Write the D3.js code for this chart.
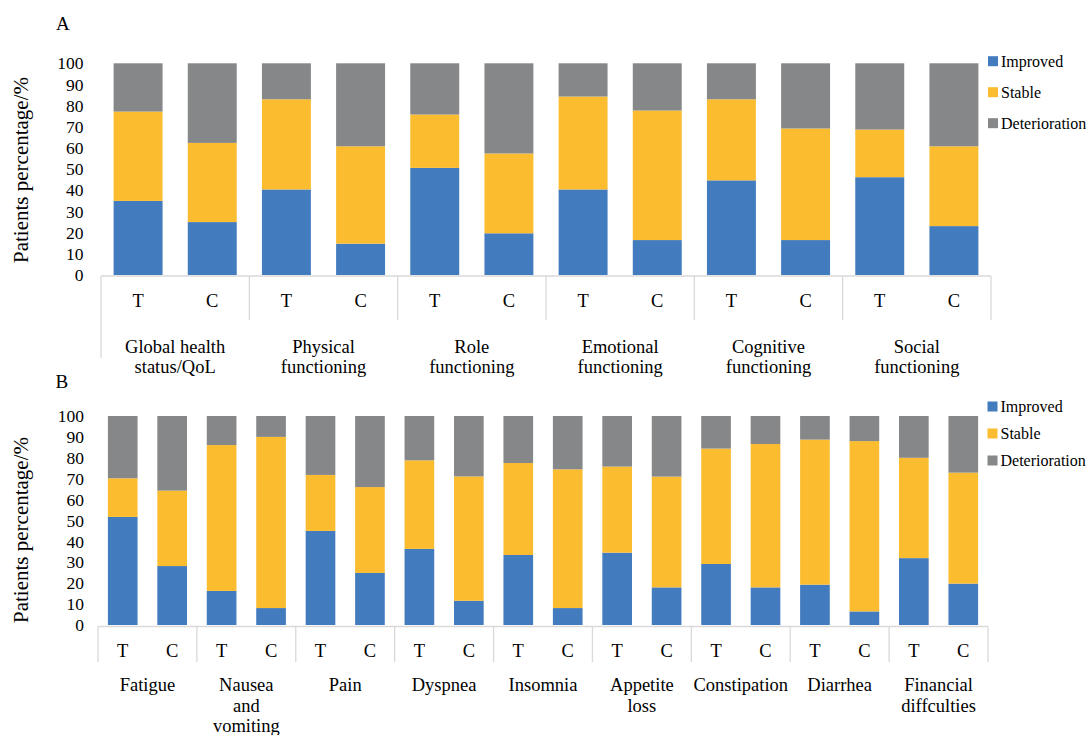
<!DOCTYPE html>
<html>
<head>
<meta charset="utf-8">
<script src="https://cdn.jsdelivr.net/npm/d3@7"></script>
<style>
  html, body { margin: 0; padding: 0; background: #ffffff; }
  svg { display: block; }
</style>
</head>
<body>
<svg id="chart" width="1089" height="735"></svg>
<script>
// ---- Data -------------------------------------------------------------
const groups = ["T", "C"];
const seriesNames = ["Improved", "Stable", "Deterioration"];
const seriesColors = ["#437bbf", "#fbbc30", "#868788"];
const yTicks = [0, 10, 20, 30, 40, 50, 60, 70, 80, 90, 100];
const yTitle = "Patients percentage/%";

// Panel A: functional scales (each pair is T then C)
const categoriesA = [
  ["Global health", "status/QoL"],
  ["Physical", "functioning"],
  ["Role", "functioning"],
  ["Emotional", "functioning"],
  ["Cognitive", "functioning"],
  ["Social", "functioning"]
];
const improvedA      = [35.0, 25.0, 40.4, 14.8, 50.6, 19.7, 40.4, 16.5, 44.7, 16.5, 46.2, 23.1];
const stableA        = [42.2, 37.4, 42.6, 46.0, 25.2, 37.7, 43.9, 61.2, 38.3, 52.7, 22.5, 37.7];
const deteriorationA = [22.8, 37.6, 17.0, 39.2, 24.2, 42.6, 15.7, 22.3, 17.0, 30.8, 31.3, 39.2];

// Panel B: symptom scales (each pair is T then C)
const categoriesB = [
  ["Fatigue"],
  ["Nausea", "and", "vomiting"],
  ["Pain"],
  ["Dyspnea"],
  ["Insomnia"],
  ["Appetite", "loss"],
  ["Constipation"],
  ["Diarrhea"],
  ["Financial", "diffculties"]
];
const improvedB      = [51.7, 28.2, 16.3, 8.1, 45.0, 24.9, 36.4, 11.6, 33.5, 8.1, 34.6, 18.0, 29.2, 18.0, 19.3, 6.5, 32.0, 19.8];
const stableB        = [18.5, 36.1, 69.8, 81.9, 26.8, 41.1, 42.4, 59.5, 44.0, 66.4, 41.2, 53.0, 55.2, 68.6, 69.4, 81.5, 48.0, 53.1];
const deteriorationB = [29.8, 35.7, 13.9, 10.0, 28.2, 34.0, 21.2, 28.9, 22.5, 25.5, 24.2, 29.0, 15.6, 13.4, 11.3, 12.0, 20.0, 27.1];

// ---- Drawing ----------------------------------------------------------
const FONT = "'Liberation Serif', 'Times New Roman', Times, serif";
const svg = d3.select("#chart");
const axisColor = "#d9d9d9";

function drawPanel(p) {
  const g = svg.append("g");

  // one row per bar: category index + group letter
  const rows = [];
  p.categories.forEach((cat, ci) => {
    groups.forEach((grp, gi) => {
      const i = ci * groups.length + gi;
      rows.push({
        key: ci + "-" + grp, cat: ci, grp: grp,
        Improved: p.improved[i], Stable: p.stable[i], Deterioration: p.deterioration[i]
      });
    });
  });

  const x = d3.scaleBand()
    .domain(rows.map(d => d.key))
    .range([p.left, p.right])
    .paddingInner(p.padInner)
    .paddingOuter(p.padInner / 2);

  const y = d3.scaleLinear().domain([0, 100]).range([p.bottom, p.top]);
  const color = d3.scaleOrdinal().domain(seriesNames).range(seriesColors);

  const stacked = d3.stack().keys(seriesNames)(rows);

  g.selectAll("g.series")
    .data(stacked)
    .join("g")
    .attr("class", "series")
    .attr("fill", s => color(s.key))
    .selectAll("rect")
    .data(s => s)
    .join("rect")
    .attr("x", d => x(d.data.key))
    .attr("width", x.bandwidth())
    .attr("y", d => y(d[1]))
    .attr("height", d => y(d[0]) - y(d[1]));

  // y axis: labels only
  const yAxis = g.append("g")
    .attr("transform", `translate(${p.tickX},0)`)
    .call(d3.axisLeft(y).tickValues(yTicks).tickSize(0).tickPadding(0));
  yAxis.select(".domain").remove();
  yAxis.selectAll("text")
    .attr("font-size", 17.5)
    .attr("fill", "#000");

  // y title
  g.append("text")
    .attr("transform", `translate(${p.titleX},${p.titleY}) rotate(-90)`)
    .attr("text-anchor", "middle")
    .attr("dominant-baseline", "central")
    .attr("font-size", 21)
    .text(yTitle);

  // panel letter
  g.append("text")
    .attr("x", p.letterX).attr("y", p.letterY)
    .attr("font-size", 19)
    .text(p.letter);

  // multi-level category axis
  const axisY = p.axisLine;
  const groupWidth = x.step() * groups.length;
  g.append("line")
    .attr("x1", p.left).attr("x2", p.right)
    .attr("y1", axisY).attr("y2", axisY)
    .attr("stroke", axisColor).attr("stroke-width", 1.3);

  d3.range(p.categories.length + 1).forEach(k => {
    const xx = p.left + k * groupWidth;
    const bottom = (k === 0 && p.leftExtends) ? p.leftLineEnd : p.sepEnd;
    g.append("line")
      .attr("x1", xx).attr("x2", xx)
      .attr("y1", axisY).attr("y2", bottom)
      .attr("stroke", axisColor).attr("stroke-width", 1.3);
  });

  g.selectAll("text.grp")
    .data(rows)
    .join("text")
    .attr("class", "grp")
    .attr("x", d => x(d.key) + x.bandwidth() / 2)
    .attr("y", p.grpBaseline)
    .attr("text-anchor", "middle")
    .attr("font-size", 18.5)
    .text(d => d.grp);

  p.categories.forEach((lines, ci) => {
    const cx = p.left + (ci + 0.5) * groupWidth;
    const t = g.append("text")
      .attr("x", cx).attr("y", p.catBaseline)
      .attr("text-anchor", "middle")
      .attr("font-size", 18.5);
    lines.forEach((ln, li) => {
      t.append("tspan")
        .attr("x", cx)
        .attr("y", p.catBaseline + li * p.catLineGap)
        .text(ln);
    });
  });

  // legend
  const leg = g.append("g");
  seriesNames.forEach((name, i) => {
    const cy = p.legendY + i * p.legendGap;
    leg.append("rect")
      .attr("x", p.legendX).attr("y", cy - 5)
      .attr("width", 10).attr("height", 10)
      .attr("fill", color(name));
    leg.append("text")
      .attr("x", p.legendX + 13).attr("y", cy)
      .attr("dominant-baseline", "central")
      .attr("font-size", 16)
      .text(name);
  });
}

drawPanel({
  letter: "A", letterX: 56, letterY: 29.5,
  categories: categoriesA,
  improved: improvedA, stable: stableA, deterioration: deteriorationA,
  left: 101, right: 991, top: 63.3, bottom: 275, padInner: 0.34,
  tickX: 83.5, titleX: 21, titleY: 170,
  axisLine: 276, sepEnd: 320, leftExtends: true, leftLineEnd: 358,
  grpBaseline: 306.5, catBaseline: 352.5, catLineGap: 20.8,
  legendX: 988, legendY: 61.2, legendGap: 31
});

drawPanel({
  letter: "B", letterX: 55.5, letterY: 388,
  categories: categoriesB,
  improved: improvedB, stable: stableB, deterioration: deteriorationB,
  left: 98, right: 988, top: 416, bottom: 625, padInner: 0.4,
  tickX: 84, titleX: 21, titleY: 530,
  axisLine: 626.5, sepEnd: 662, leftExtends: false, leftLineEnd: 662,
  grpBaseline: 657, catBaseline: 691, catLineGap: 20.5,
  legendX: 987.5, legendY: 406.5, legendGap: 27
});

// every label uses the same serif face
svg.selectAll("text")
  .attr("font-family", null)
  .style("font-family", FONT)
  .style("fill", "#000");
svg.selectAll("g").attr("font-family", null);
</script>
</body>
</html>
